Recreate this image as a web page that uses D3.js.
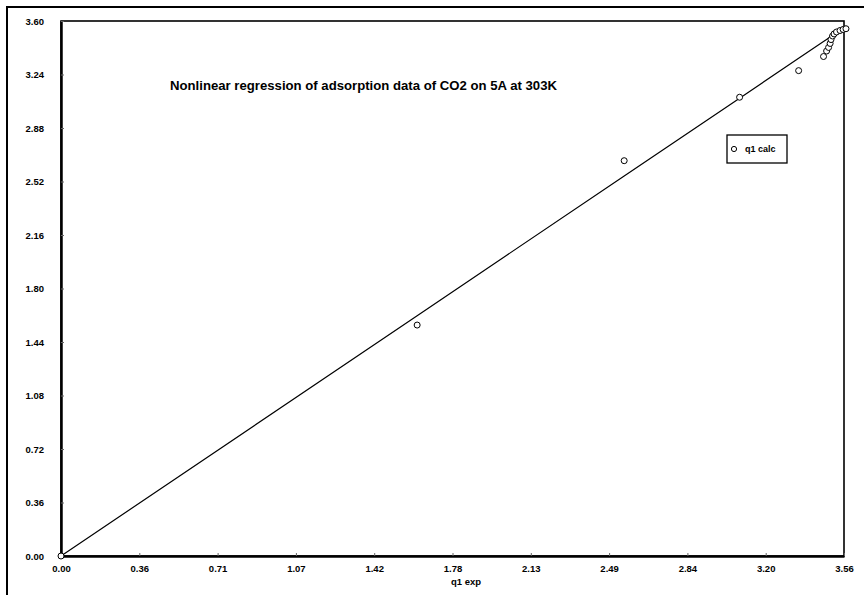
<!DOCTYPE html>
<html>
<head>
<meta charset="utf-8">
<script src="https://cdn.jsdelivr.net/npm/d3@7"></script>
<style>
  body { margin: 0; background: #fff; }
  svg { display: block; }
  text { font-family: "Liberation Sans Narrow", "Liberation Sans", Arial, sans-serif; font-weight: bold; fill: #000; }
</style>
</head>
<body>
<svg id="chart"></svg>
<script>
let width = 864, height = 595;

// q1 exp vs q1 calc
var q1Exp  = [0, 1.617, 2.557, 3.081, 3.349, 3.462, 3.476, 3.485, 3.492, 3.496, 3.503, 3.510, 3.521, 3.537, 3.551, 3.564];
var q1Calc = [0, 1.554, 2.660, 3.087, 3.266, 3.361, 3.398, 3.422, 3.449, 3.475, 3.499, 3.513, 3.526, 3.536, 3.543, 3.548];

var xTickValues = [0, 0.3555, 0.711, 1.0665, 1.422, 1.7775, 2.133, 2.4885, 2.844, 3.1995, 3.555];
var xTickLabels = ["0.00", "0.36", "0.71", "1.07", "1.42", "1.78", "2.13", "2.49", "2.84", "3.20", "3.56"];
var yTickValues = [0, 0.36, 0.72, 1.08, 1.44, 1.80, 2.16, 2.52, 2.88, 3.24, 3.60];
var yTickLabels = ["0.00", "0.36", "0.72", "1.08", "1.44", "1.80", "2.16", "2.52", "2.88", "3.24", "3.60"];

var title = "Nonlinear regression of adsorption data of CO2 on 5A at 303K";
var xTitle = "q1 exp";
var legendLabel = "q1 calc";

var margin = { left: 61, top: 21, right: 20, bottom: 39 };

let svg = d3.select("#chart")
            .attr("width", width)
            .attr("height", height);

// outer frame (only top and left edges show in the scan)
svg.append("path")
   .attr("d", "M7,595 L7,7 L864,7")
   .attr("fill", "none")
   .attr("stroke", "#000")
   .attr("stroke-width", 2);

var x = d3.scaleLinear().domain([0, 3.555]).range([margin.left, width - margin.right]);
var y = d3.scaleLinear().domain([0, 3.60]).range([height - margin.bottom, margin.top]);

// plot frame
svg.append("rect")
   .attr("x", x(0))
   .attr("y", y(3.6))
   .attr("width", x(3.555) - x(0))
   .attr("height", y(0) - y(3.6))
   .attr("fill", "none")
   .attr("stroke", "#000")
   .attr("stroke-width", 1.6);

// axes with small inward ticks
var xAxis = svg.append("g")
   .attr("transform", `translate(0,${y(0)})`)
   .call(d3.axisBottom(x)
     .tickValues(xTickValues)
     .tickFormat((d, i) => xTickLabels[i])
     .tickSizeInner(-3)
     .tickSizeOuter(0)
     .tickPadding(9));
xAxis.select(".domain").attr("stroke-width", 2.5);
xAxis.selectAll(".tick line").attr("stroke", "#666");
xAxis.selectAll("text").attr("font-size", 9.5);

var yAxis = svg.append("g")
   .attr("transform", `translate(${x(0)},0)`)
   .call(d3.axisLeft(y)
     .tickValues(yTickValues)
     .tickFormat((d, i) => yTickLabels[i])
     .tickSizeInner(-3)
     .tickSizeOuter(0)
     .tickPadding(17));
yAxis.select(".domain").attr("stroke-width", 2.5);
yAxis.selectAll(".tick line").attr("stroke", "#666");
yAxis.selectAll("text").attr("font-size", 9.5);

// x axis title
svg.append("text")
   .attr("x", 466)
   .attr("y", 585)
   .attr("text-anchor", "middle")
   .attr("font-size", 9.5)
   .text(xTitle);

// chart title
svg.append("text")
   .attr("x", 170)
   .attr("y", 90)
   .attr("font-size", 13.5)
   .attr("textLength", 387)
   .attr("lengthAdjust", "spacingAndGlyphs")
   .text(title);

// fitted line (q1 exp against itself)
var line = d3.line()
   .x(d => x(d))
   .y(d => y(d));

svg.append("path")
   .datum(q1Exp)
   .attr("d", line)
   .attr("fill", "none")
   .attr("stroke", "#000")
   .attr("stroke-width", 1.2);

// calculated points
svg.append("g")
   .selectAll("circle")
   .data(q1Exp)
   .join("circle")
   .attr("cx", d => x(d))
   .attr("cy", (d, i) => y(q1Calc[i]))
   .attr("r", 3)
   .attr("fill", "#fff")
   .attr("stroke", "#000")
   .attr("stroke-width", 1);

// legend
var legend = svg.append("g").attr("transform", "translate(727,135)");
legend.append("rect")
   .attr("width", 60)
   .attr("height", 28)
   .attr("fill", "#fff")
   .attr("stroke", "#000")
   .attr("stroke-width", 1.3);
legend.append("circle")
   .attr("cx", 7)
   .attr("cy", 14)
   .attr("r", 2.6)
   .attr("fill", "#fff")
   .attr("stroke", "#000");
legend.append("text")
   .attr("x", 18)
   .attr("y", 17)
   .attr("font-size", 9)
   .text(legendLabel);
</script>
</body>
</html>
